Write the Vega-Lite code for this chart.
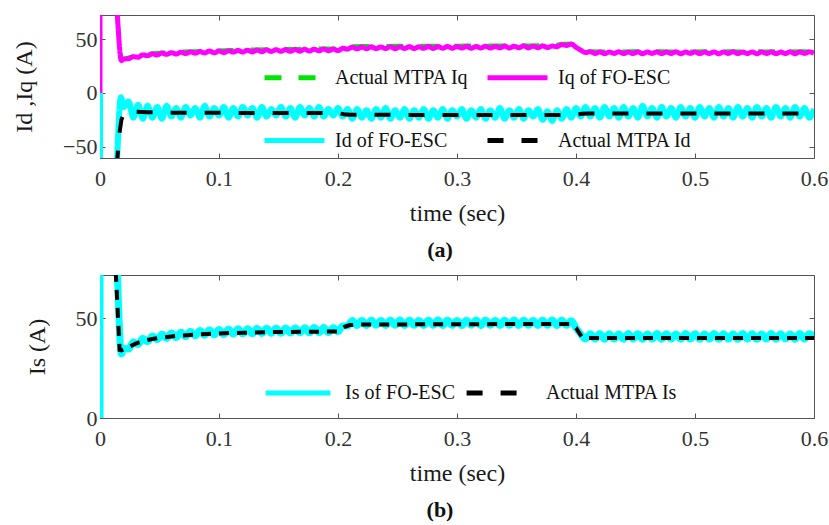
{
 "$schema": "https://vega.github.io/schema/vega-lite/v6.json",
 "background": "white",
 "padding": {"left": 12, "top": 14, "right": 0, "bottom": 5},
 "config": {
  "font": "Liberation Serif",
  "view": {"stroke": "#555555", "strokeWidth": 1},
  "axis": {"grid": false, "domain": false, "tickSize": -5, "tickColor": "#555555", "labelFont": "Liberation Serif", "labelFontSize": 22, "labelColor": "#333333", "titleFont": "Liberation Serif", "titleFontSize": 24, "titleFontWeight": "normal", "titleColor": "#1a1a1a", "labelFlush": false, "labelOverlap": false, "labelBound": false},
  "axisX": {"labelPadding": 15, "titlePadding": 12},
  "axisY": {"labelPadding": 8, "titlePadding": 26}
 },
 "datasets": {
  "iqF": [{"t":0,"v":0},{"t":0,"v":100},{"t":0.012,"v":100},{"t":0.018,"v":30},{"t":0.02,"v":31.6},{"t":0.024,"v":31.8},{"t":0.028,"v":33.8},{"t":0.032,"v":33.2},{"t":0.036,"v":35.4},{"t":0.04,"v":34.7},{"t":0.044,"v":36.4},{"t":0.048,"v":35.3},{"t":0.052,"v":37.1},{"t":0.056,"v":35.9},{"t":0.06,"v":37.5},{"t":0.064,"v":36.2},{"t":0.068,"v":37.9},{"t":0.072,"v":36.6},{"t":0.076,"v":38.2},{"t":0.08,"v":37.0},{"t":0.084,"v":38.5},{"t":0.088,"v":37.2},{"t":0.092,"v":39.0},{"t":0.096,"v":37.3},{"t":0.1,"v":39.0},{"t":0.104,"v":37.5},{"t":0.108,"v":39.2},{"t":0.112,"v":38.0},{"t":0.116,"v":39.6},{"t":0.12,"v":38.1},{"t":0.124,"v":39.8},{"t":0.128,"v":38.2},{"t":0.132,"v":39.9},{"t":0.136,"v":38.4},{"t":0.14,"v":40.1},{"t":0.144,"v":38.6},{"t":0.148,"v":40.2},{"t":0.152,"v":38.8},{"t":0.156,"v":40.3},{"t":0.16,"v":38.7},{"t":0.164,"v":40.4},{"t":0.168,"v":38.9},{"t":0.172,"v":40.6},{"t":0.176,"v":39.0},{"t":0.18,"v":40.7},{"t":0.184,"v":39.2},{"t":0.188,"v":40.9},{"t":0.192,"v":39.2},{"t":0.196,"v":40.8},{"t":0.2,"v":39.4},{"t":0.204,"v":41.5},{"t":0.208,"v":40.8},{"t":0.212,"v":42.6},{"t":0.216,"v":41.0},{"t":0.22,"v":42.7},{"t":0.224,"v":41.1},{"t":0.228,"v":42.9},{"t":0.232,"v":41.2},{"t":0.236,"v":42.8},{"t":0.24,"v":41.3},{"t":0.244,"v":43.0},{"t":0.248,"v":41.2},{"t":0.252,"v":42.9},{"t":0.256,"v":41.4},{"t":0.26,"v":43.1},{"t":0.264,"v":41.3},{"t":0.268,"v":43.0},{"t":0.272,"v":41.5},{"t":0.276,"v":43.2},{"t":0.28,"v":41.4},{"t":0.284,"v":43.1},{"t":0.288,"v":41.6},{"t":0.292,"v":43.3},{"t":0.296,"v":41.5},{"t":0.3,"v":43.2},{"t":0.304,"v":41.7},{"t":0.308,"v":43.4},{"t":0.312,"v":41.6},{"t":0.316,"v":43.2},{"t":0.32,"v":41.8},{"t":0.324,"v":43.5},{"t":0.328,"v":41.7},{"t":0.332,"v":43.3},{"t":0.336,"v":41.9},{"t":0.34,"v":43.6},{"t":0.344,"v":41.8},{"t":0.348,"v":43.4},{"t":0.352,"v":42.0},{"t":0.356,"v":43.7},{"t":0.36,"v":41.9},{"t":0.364,"v":43.5},{"t":0.368,"v":42.1},{"t":0.372,"v":43.8},{"t":0.376,"v":42.2},{"t":0.38,"v":43.6},{"t":0.384,"v":43.0},{"t":0.388,"v":45.0},{"t":0.392,"v":44.2},{"t":0.396,"v":45.4},{"t":0.4,"v":42.5},{"t":0.404,"v":39.8},{"t":0.408,"v":37.6},{"t":0.412,"v":38.3},{"t":0.416,"v":36.7},{"t":0.42,"v":38.2},{"t":0.424,"v":36.6},{"t":0.428,"v":38.1},{"t":0.432,"v":36.8},{"t":0.436,"v":38.3},{"t":0.44,"v":36.6},{"t":0.444,"v":38.0},{"t":0.448,"v":36.7},{"t":0.452,"v":38.2},{"t":0.456,"v":36.5},{"t":0.46,"v":38.1},{"t":0.464,"v":36.8},{"t":0.468,"v":38.2},{"t":0.472,"v":36.6},{"t":0.476,"v":38.0},{"t":0.48,"v":36.7},{"t":0.484,"v":38.3},{"t":0.488,"v":36.5},{"t":0.492,"v":38.1},{"t":0.496,"v":36.8},{"t":0.5,"v":38.2},{"t":0.504,"v":36.6},{"t":0.508,"v":38.0},{"t":0.512,"v":36.7},{"t":0.516,"v":38.2},{"t":0.52,"v":36.5},{"t":0.524,"v":38.1},{"t":0.528,"v":36.8},{"t":0.532,"v":38.3},{"t":0.536,"v":36.6},{"t":0.54,"v":38.0},{"t":0.544,"v":36.7},{"t":0.548,"v":38.2},{"t":0.552,"v":36.5},{"t":0.556,"v":38.1},{"t":0.56,"v":36.8},{"t":0.564,"v":38.2},{"t":0.568,"v":36.6},{"t":0.572,"v":38.0},{"t":0.576,"v":36.7},{"t":0.58,"v":38.3},{"t":0.584,"v":36.5},{"t":0.588,"v":38.1},{"t":0.592,"v":36.8},{"t":0.596,"v":38.2},{"t":0.6,"v":37.0}],
  "iqM": [{"t":0.012,"v":100},{"t":0.0178,"v":31.5},{"t":0.02,"v":31.8},{"t":0.025,"v":33.2},{"t":0.03,"v":34.5},{"t":0.035,"v":35.5},{"t":0.04,"v":36.4},{"t":0.05,"v":37.4},{"t":0.06,"v":38.0},{"t":0.07,"v":38.5},{"t":0.08,"v":38.9},{"t":0.09,"v":39.3},{"t":0.1,"v":39.5},{"t":0.11,"v":40.0},{"t":0.12,"v":40.2},{"t":0.13,"v":40.4},{"t":0.14,"v":40.6},{"t":0.15,"v":40.8},{"t":0.16,"v":40.8},{"t":0.17,"v":41.0},{"t":0.18,"v":41.2},{"t":0.19,"v":41.3},{"t":0.2,"v":41.4},{"t":0.205,"v":42.7},{"t":0.21,"v":43.5},{"t":0.22,"v":43.6},{"t":0.23,"v":43.8},{"t":0.24,"v":43.7},{"t":0.25,"v":43.8},{"t":0.26,"v":43.9},{"t":0.27,"v":43.8},{"t":0.28,"v":44.0},{"t":0.29,"v":43.9},{"t":0.3,"v":44.0},{"t":0.31,"v":44.1},{"t":0.32,"v":44.0},{"t":0.33,"v":44.2},{"t":0.34,"v":44.1},{"t":0.35,"v":44.3},{"t":0.36,"v":44.2},{"t":0.37,"v":44.4},{"t":0.38,"v":44.5},{"t":0.39,"v":45.7},{"t":0.396,"v":46.0},{"t":0.4,"v":43.7},{"t":0.405,"v":39.7},{"t":0.41,"v":38.8},{"t":0.42,"v":38.6},{"t":0.43,"v":38.7},{"t":0.44,"v":38.6},{"t":0.45,"v":38.7},{"t":0.46,"v":38.6},{"t":0.47,"v":38.7},{"t":0.48,"v":38.6},{"t":0.49,"v":38.7},{"t":0.5,"v":38.6},{"t":0.51,"v":38.7},{"t":0.52,"v":38.6},{"t":0.53,"v":38.7},{"t":0.54,"v":38.6},{"t":0.55,"v":38.7},{"t":0.56,"v":38.6},{"t":0.57,"v":38.7},{"t":0.58,"v":38.6},{"t":0.59,"v":38.7},{"t":0.6,"v":38.6}],
  "idF": [{"t":0,"v":0},{"t":0,"v":-100},{"t":0.012,"v":-100},{"t":0.0175,"v":-4},{"t":0.02,"v":-13},{"t":0.024,"v":-8},{"t":0.028,"v":-23},{"t":0.032,"v":-11},{"t":0.036,"v":-24},{"t":0.04,"v":-12},{"t":0.044,"v":-23},{"t":0.048,"v":-13},{"t":0.052,"v":-24},{"t":0.056,"v":-12},{"t":0.06,"v":-22},{"t":0.064,"v":-14},{"t":0.068,"v":-23},{"t":0.072,"v":-13},{"t":0.076,"v":-21},{"t":0.08,"v":-14},{"t":0.084,"v":-23},{"t":0.088,"v":-12},{"t":0.092,"v":-22},{"t":0.096,"v":-14},{"t":0.1,"v":-21},{"t":0.104,"v":-13},{"t":0.108,"v":-23},{"t":0.112,"v":-14},{"t":0.116,"v":-22},{"t":0.12,"v":-13},{"t":0.124,"v":-21},{"t":0.128,"v":-14},{"t":0.132,"v":-23},{"t":0.136,"v":-13},{"t":0.14,"v":-22},{"t":0.144,"v":-15},{"t":0.148,"v":-21},{"t":0.152,"v":-13},{"t":0.156,"v":-22},{"t":0.16,"v":-14},{"t":0.164,"v":-23},{"t":0.168,"v":-13},{"t":0.172,"v":-21},{"t":0.176,"v":-14},{"t":0.18,"v":-22},{"t":0.184,"v":-13},{"t":0.188,"v":-22},{"t":0.192,"v":-15},{"t":0.196,"v":-21},{"t":0.2,"v":-14},{"t":0.204,"v":-22},{"t":0.208,"v":-15},{"t":0.212,"v":-24},{"t":0.216,"v":-15},{"t":0.22,"v":-23},{"t":0.224,"v":-16},{"t":0.228,"v":-24},{"t":0.232,"v":-15},{"t":0.236,"v":-23},{"t":0.24,"v":-14},{"t":0.244,"v":-24},{"t":0.248,"v":-16},{"t":0.252,"v":-23},{"t":0.256,"v":-15},{"t":0.26,"v":-24},{"t":0.264,"v":-16},{"t":0.268,"v":-23},{"t":0.272,"v":-15},{"t":0.276,"v":-24},{"t":0.28,"v":-16},{"t":0.284,"v":-23},{"t":0.288,"v":-15},{"t":0.292,"v":-24},{"t":0.296,"v":-16},{"t":0.3,"v":-22},{"t":0.304,"v":-15},{"t":0.308,"v":-24},{"t":0.312,"v":-16},{"t":0.316,"v":-23},{"t":0.32,"v":-15},{"t":0.324,"v":-24},{"t":0.328,"v":-16},{"t":0.332,"v":-23},{"t":0.336,"v":-14},{"t":0.34,"v":-24},{"t":0.344,"v":-16},{"t":0.348,"v":-23},{"t":0.352,"v":-15},{"t":0.356,"v":-24},{"t":0.36,"v":-16},{"t":0.364,"v":-22},{"t":0.368,"v":-15},{"t":0.372,"v":-25},{"t":0.376,"v":-17},{"t":0.38,"v":-26},{"t":0.384,"v":-16},{"t":0.388,"v":-24},{"t":0.392,"v":-15},{"t":0.396,"v":-23},{"t":0.4,"v":-14},{"t":0.404,"v":-22},{"t":0.408,"v":-13},{"t":0.412,"v":-22},{"t":0.416,"v":-14},{"t":0.42,"v":-23},{"t":0.424,"v":-13},{"t":0.428,"v":-22},{"t":0.432,"v":-14},{"t":0.436,"v":-23},{"t":0.44,"v":-13},{"t":0.444,"v":-22},{"t":0.448,"v":-14},{"t":0.452,"v":-23},{"t":0.456,"v":-12},{"t":0.46,"v":-22},{"t":0.464,"v":-14},{"t":0.468,"v":-23},{"t":0.472,"v":-13},{"t":0.476,"v":-22},{"t":0.48,"v":-14},{"t":0.484,"v":-23},{"t":0.488,"v":-13},{"t":0.492,"v":-22},{"t":0.496,"v":-14},{"t":0.5,"v":-23},{"t":0.504,"v":-13},{"t":0.508,"v":-22},{"t":0.512,"v":-14},{"t":0.516,"v":-23},{"t":0.52,"v":-13},{"t":0.524,"v":-22},{"t":0.528,"v":-14},{"t":0.532,"v":-23},{"t":0.536,"v":-13},{"t":0.54,"v":-22},{"t":0.544,"v":-14},{"t":0.548,"v":-23},{"t":0.552,"v":-13},{"t":0.556,"v":-22},{"t":0.56,"v":-14},{"t":0.564,"v":-23},{"t":0.568,"v":-13},{"t":0.572,"v":-22},{"t":0.576,"v":-14},{"t":0.58,"v":-23},{"t":0.584,"v":-13},{"t":0.588,"v":-22},{"t":0.592,"v":-14},{"t":0.596,"v":-23},{"t":0.6,"v":-15}],
  "idM": [{"t":0.012,"v":-100},{"t":0.016,"v":-40},{"t":0.018,"v":-25},{"t":0.02,"v":-19},{"t":0.022,"v":-16.5},{"t":0.025,"v":-16.8},{"t":0.03,"v":-17.5},{"t":0.04,"v":-18},{"t":0.06,"v":-18.3},{"t":0.08,"v":-18.5},{"t":0.1,"v":-18.5},{"t":0.12,"v":-18.6},{"t":0.14,"v":-18.6},{"t":0.16,"v":-18.7},{"t":0.18,"v":-18.7},{"t":0.2,"v":-18.8},{"t":0.205,"v":-19.8},{"t":0.21,"v":-20.3},{"t":0.25,"v":-20.4},{"t":0.3,"v":-20.5},{"t":0.35,"v":-20.5},{"t":0.39,"v":-20.6},{"t":0.395,"v":-20.5},{"t":0.4,"v":-20},{"t":0.405,"v":-19.3},{"t":0.41,"v":-19},{"t":0.45,"v":-19},{"t":0.5,"v":-19},{"t":0.55,"v":-19},{"t":0.6,"v":-19}],
  "isF": [{"t":0,"v":0},{"t":0,"v":100},{"t":0.012,"v":100},{"t":0.018,"v":32.0},{"t":0.02,"v":34.8},{"t":0.024,"v":34.5},{"t":0.028,"v":38.0},{"t":0.032,"v":36.8},{"t":0.036,"v":39.8},{"t":0.04,"v":38.2},{"t":0.044,"v":41.0},{"t":0.048,"v":39.2},{"t":0.052,"v":41.9},{"t":0.056,"v":39.8},{"t":0.06,"v":42.5},{"t":0.064,"v":40.3},{"t":0.068,"v":42.9},{"t":0.072,"v":40.7},{"t":0.076,"v":43.3},{"t":0.08,"v":41.1},{"t":0.084,"v":43.7},{"t":0.088,"v":41.4},{"t":0.092,"v":44.0},{"t":0.096,"v":41.6},{"t":0.1,"v":44.2},{"t":0.104,"v":41.8},{"t":0.108,"v":44.4},{"t":0.112,"v":42.0},{"t":0.116,"v":44.6},{"t":0.12,"v":42.1},{"t":0.124,"v":44.6},{"t":0.128,"v":42.2},{"t":0.132,"v":44.8},{"t":0.136,"v":42.3},{"t":0.14,"v":44.9},{"t":0.144,"v":42.4},{"t":0.148,"v":44.9},{"t":0.152,"v":42.4},{"t":0.156,"v":45.0},{"t":0.16,"v":42.5},{"t":0.164,"v":45.0},{"t":0.168,"v":42.6},{"t":0.172,"v":45.1},{"t":0.176,"v":42.6},{"t":0.18,"v":45.2},{"t":0.184,"v":42.7},{"t":0.188,"v":45.2},{"t":0.192,"v":42.7},{"t":0.196,"v":45.1},{"t":0.2,"v":43.2},{"t":0.204,"v":46.0},{"t":0.208,"v":46.0},{"t":0.212,"v":48.7},{"t":0.216,"v":46.3},{"t":0.22,"v":48.8},{"t":0.224,"v":46.3},{"t":0.228,"v":48.9},{"t":0.232,"v":46.4},{"t":0.236,"v":48.8},{"t":0.24,"v":46.3},{"t":0.244,"v":48.9},{"t":0.248,"v":46.4},{"t":0.252,"v":49.0},{"t":0.256,"v":46.3},{"t":0.26,"v":48.9},{"t":0.264,"v":46.4},{"t":0.268,"v":48.8},{"t":0.272,"v":46.3},{"t":0.276,"v":48.9},{"t":0.28,"v":46.4},{"t":0.284,"v":49.0},{"t":0.288,"v":46.3},{"t":0.292,"v":48.9},{"t":0.296,"v":46.4},{"t":0.3,"v":48.8},{"t":0.304,"v":46.3},{"t":0.308,"v":48.9},{"t":0.312,"v":46.4},{"t":0.316,"v":49.0},{"t":0.32,"v":46.3},{"t":0.324,"v":48.9},{"t":0.328,"v":46.4},{"t":0.332,"v":48.8},{"t":0.336,"v":46.3},{"t":0.34,"v":48.9},{"t":0.344,"v":46.4},{"t":0.348,"v":49.0},{"t":0.352,"v":46.3},{"t":0.356,"v":48.9},{"t":0.36,"v":46.4},{"t":0.364,"v":48.8},{"t":0.368,"v":46.3},{"t":0.372,"v":48.9},{"t":0.376,"v":46.4},{"t":0.38,"v":49.0},{"t":0.384,"v":46.3},{"t":0.388,"v":48.9},{"t":0.392,"v":46.4},{"t":0.396,"v":48.6},{"t":0.4,"v":45.0},{"t":0.404,"v":42.0},{"t":0.408,"v":39.5},{"t":0.412,"v":42.1},{"t":0.416,"v":39.5},{"t":0.42,"v":42.2},{"t":0.424,"v":39.4},{"t":0.428,"v":42.1},{"t":0.432,"v":39.5},{"t":0.436,"v":42.0},{"t":0.44,"v":39.4},{"t":0.444,"v":42.2},{"t":0.448,"v":39.5},{"t":0.452,"v":42.1},{"t":0.456,"v":39.4},{"t":0.46,"v":42.0},{"t":0.464,"v":39.5},{"t":0.468,"v":42.2},{"t":0.472,"v":39.4},{"t":0.476,"v":42.1},{"t":0.48,"v":39.5},{"t":0.484,"v":42.0},{"t":0.488,"v":39.4},{"t":0.492,"v":42.2},{"t":0.496,"v":39.5},{"t":0.5,"v":42.1},{"t":0.504,"v":39.4},{"t":0.508,"v":42.0},{"t":0.512,"v":39.5},{"t":0.516,"v":42.2},{"t":0.52,"v":39.4},{"t":0.524,"v":42.1},{"t":0.528,"v":39.5},{"t":0.532,"v":42.0},{"t":0.536,"v":39.4},{"t":0.54,"v":42.2},{"t":0.544,"v":39.5},{"t":0.548,"v":42.1},{"t":0.552,"v":39.4},{"t":0.556,"v":42.0},{"t":0.56,"v":39.5},{"t":0.564,"v":42.2},{"t":0.568,"v":39.4},{"t":0.572,"v":42.1},{"t":0.576,"v":39.5},{"t":0.58,"v":42.0},{"t":0.584,"v":39.4},{"t":0.588,"v":42.2},{"t":0.592,"v":39.5},{"t":0.596,"v":42.1},{"t":0.6,"v":40.5}],
  "isM": [{"t":0.011,"v":100},{"t":0.0165,"v":34},{"t":0.018,"v":33.8},{"t":0.02,"v":34.3},{"t":0.025,"v":35.8},{"t":0.03,"v":37.2},{"t":0.035,"v":38.2},{"t":0.04,"v":39.0},{"t":0.045,"v":39.6},{"t":0.05,"v":40.1},{"t":0.06,"v":40.8},{"t":0.07,"v":41.3},{"t":0.08,"v":41.7},{"t":0.09,"v":42.0},{"t":0.1,"v":42.3},{"t":0.11,"v":42.5},{"t":0.12,"v":42.6},{"t":0.13,"v":42.8},{"t":0.14,"v":42.9},{"t":0.15,"v":43.0},{"t":0.16,"v":43.0},{"t":0.17,"v":43.1},{"t":0.18,"v":43.1},{"t":0.19,"v":43.2},{"t":0.2,"v":43.3},{"t":0.205,"v":45.5},{"t":0.21,"v":46.5},{"t":0.22,"v":46.7},{"t":0.24,"v":46.8},{"t":0.26,"v":46.8},{"t":0.28,"v":46.9},{"t":0.3,"v":46.9},{"t":0.32,"v":46.9},{"t":0.34,"v":47.0},{"t":0.36,"v":47.0},{"t":0.38,"v":47.0},{"t":0.395,"v":47.0},{"t":0.4,"v":45.0},{"t":0.405,"v":40.5},{"t":0.41,"v":40.0},{"t":0.45,"v":40.0},{"t":0.5,"v":40.0},{"t":0.55,"v":40.0},{"t":0.6,"v":40.0}]
 },
 "spacing": 12,
 "resolve": {"scale": {"color": "independent", "strokeDash": "independent"}, "legend": {"color": "independent", "strokeDash": "independent"}},
 "vconcat": [
  {
   "width": 714, "height": 143,
   "title": {"text": "(a)", "orient": "bottom", "frame": "group", "anchor": "middle", "dx": -17, "fontSize": 22, "fontWeight": "bold", "font": "Liberation Serif", "color": "#111111", "offset": 15},
   "resolve": {"axis": {"x": "independent", "y": "independent"}},
   "layer": [
    {
     "data": {"name": "iqM"},
     "mark": {"type": "line", "clip": true, "strokeWidth": 4},
     "encoding": {
      "x": {"field": "t", "type": "quantitative", "scale": {"domain": [0, 0.6], "nice": false}, "axis": {"values": [0, 0.1, 0.2, 0.3, 0.4, 0.5, 0.6], "format": "~g", "title": "time (sec)"}},
      "y": {"field": "v", "type": "quantitative", "scale": {"domain": [-60.5, 72.5], "nice": false, "zero": false}, "axis": {"values": [-50, 0, 50], "title": "Id ,Iq  (A)"}},
      "color": {"datum": "Actual MTPA Iq", "type": "nominal", "scale": {"domain": ["Actual MTPA Iq", "Iq of FO-ESC", "Id of FO-ESC", "Actual MTPA Id"], "range": ["#00e600", "#ff00ff", "#00ffff", "#000000"]}, "legend": {"orient": "none", "legendX": 162, "legendY": 30, "columns": 2, "direction": "horizontal", "title": null, "symbolType": "stroke", "symbolSize": 3600, "symbolStrokeWidth": 5, "labelFontSize": 20, "labelFont": "Liberation Serif", "labelColor": "#111111", "labelOffset": 8, "rowPadding": 20, "columnPadding": 8, "padding": 0}},
      "strokeDash": {"datum": "Actual MTPA Iq", "type": "nominal", "scale": {"domain": ["Actual MTPA Iq", "Iq of FO-ESC", "Id of FO-ESC", "Actual MTPA Id"], "range": [[17, 17], [1, 0], [1, 0], [16, 18]]}, "legend": {"orient": "none", "legendX": 162, "legendY": 30, "columns": 2, "direction": "horizontal", "title": null, "symbolType": "stroke", "symbolSize": 3600, "symbolStrokeWidth": 5, "labelFontSize": 20, "labelFont": "Liberation Serif", "labelColor": "#111111", "labelOffset": 8, "rowPadding": 20, "columnPadding": 8, "padding": 0}}
     }
    },
    {
     "data": {"name": "iqF"},
     "mark": {"type": "line", "clip": true, "strokeWidth": 5, "interpolate": "monotone"},
     "encoding": {
      "x": {"field": "t", "type": "quantitative", "axis": {"orient": "top", "values": [0, 0.1, 0.2, 0.3, 0.4, 0.5, 0.6], "labels": false, "title": null}},
      "y": {"field": "v", "type": "quantitative", "axis": {"orient": "right", "values": [-50, 0, 50], "labels": false, "title": null}},
      "color": {"datum": "Iq of FO-ESC", "type": "nominal"},
      "strokeDash": {"datum": "Iq of FO-ESC", "type": "nominal"}
     }
    },
    {
     "data": {"name": "idF"},
     "mark": {"type": "line", "clip": true, "strokeWidth": 6, "interpolate": "monotone"},
     "encoding": {
      "x": {"field": "t", "type": "quantitative", "axis": null},
      "y": {"field": "v", "type": "quantitative", "axis": null},
      "color": {"datum": "Id of FO-ESC", "type": "nominal"},
      "strokeDash": {"datum": "Id of FO-ESC", "type": "nominal"}
     }
    },
    {
     "data": {"name": "idM"},
     "mark": {"type": "line", "clip": true, "strokeWidth": 4},
     "encoding": {
      "x": {"field": "t", "type": "quantitative", "axis": null},
      "y": {"field": "v", "type": "quantitative", "axis": null},
      "color": {"datum": "Actual MTPA Id", "type": "nominal"},
      "strokeDash": {"datum": "Actual MTPA Id", "type": "nominal"}
     }
    }
   ]
  },
  {
   "width": 714, "height": 143,
   "title": {"text": "(b)", "orient": "bottom", "frame": "group", "anchor": "middle", "dx": -17, "fontSize": 22, "fontWeight": "bold", "font": "Liberation Serif", "color": "#111111", "offset": 15},
   "resolve": {"axis": {"x": "independent", "y": "independent"}},
   "layer": [
    {
     "data": {"name": "isF"},
     "mark": {"type": "line", "clip": true, "strokeWidth": 7, "interpolate": "monotone"},
     "encoding": {
      "x": {"field": "t", "type": "quantitative", "scale": {"domain": [0, 0.6], "nice": false}, "axis": {"values": [0, 0.1, 0.2, 0.3, 0.4, 0.5, 0.6], "format": "~g", "title": "time (sec)"}},
      "y": {"field": "v", "type": "quantitative", "scale": {"domain": [0, 71.5], "nice": false}, "axis": {"values": [0, 50], "title": "Is (A)"}},
      "color": {"datum": "Is of FO-ESC", "type": "nominal", "scale": {"domain": ["Is of FO-ESC", "Actual MTPA Is"], "range": ["#00ffff", "#000000"]}, "legend": {"orient": "none", "legendX": 163, "legendY": 83, "columns": 2, "direction": "horizontal", "title": null, "symbolType": "stroke", "symbolSize": 4200, "symbolStrokeWidth": 5, "labelFontSize": 20, "labelFont": "Liberation Serif", "labelColor": "#111111", "labelOffset": 12, "columnPadding": 0, "padding": 0}},
      "strokeDash": {"datum": "Is of FO-ESC", "type": "nominal", "scale": {"domain": ["Is of FO-ESC", "Actual MTPA Is"], "range": [[1, 0], [16, 18]]}, "legend": {"orient": "none", "legendX": 163, "legendY": 83, "columns": 2, "direction": "horizontal", "title": null, "symbolType": "stroke", "symbolSize": 4200, "symbolStrokeWidth": 5, "labelFontSize": 20, "labelFont": "Liberation Serif", "labelColor": "#111111", "labelOffset": 12, "columnPadding": 0, "padding": 0}}
     }
    },
    {
     "data": {"name": "isM"},
     "mark": {"type": "line", "clip": true, "strokeWidth": 4, "strokeDash": [10, 8]},
     "encoding": {
      "x": {"field": "t", "type": "quantitative", "axis": {"orient": "top", "values": [0, 0.1, 0.2, 0.3, 0.4, 0.5, 0.6], "labels": false, "title": null}},
      "y": {"field": "v", "type": "quantitative", "axis": {"orient": "right", "values": [0, 50], "labels": false, "title": null}},
      "color": {"datum": "Actual MTPA Is", "type": "nominal"}
     }
    }
   ]
  }
 ]
}
